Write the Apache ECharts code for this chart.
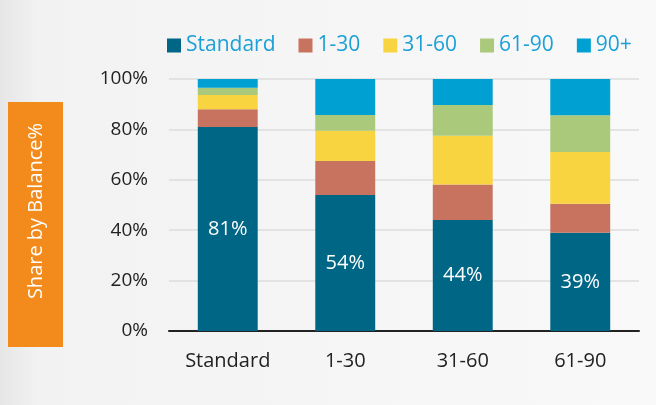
<!DOCTYPE html>
<html>
<head>
<meta charset="utf-8">
<script src="https://cdn.jsdelivr.net/npm/echarts@6/dist/echarts.min.js"></script>
<style>
html,body{margin:0;padding:0;}
#chart{width:656px;height:405px;}
</style>
</head>
<body>
<div id="chart"></div>
<script>
const categories = ['Standard', '1-30', '31-60', '61-90'];
const seriesNames = ['Standard', '1-30', '31-60', '61-90', '90+'];
const standardVals = [81, 54, 44, 39];
const d1to30Vals = [7, 13.5, 14.1, 11.5];
const d31to60Vals = [5.7, 12, 19.4, 20.5];
const d61to90Vals = [2.8, 6.2, 12.2, 14.6];
const d90plusVals = [3.5, 14.3, 10.3, 14.4];
const yTicks = [0, 20, 40, 60, 80, 100];
const colors = ['#006685', '#C87360', '#F8D540', '#AAC97A', '#00A0D2'];

const dataSets = [standardVals, d1to30Vals, d31to60Vals, d61to90Vals, d90plusVals];
const FONT = 'Open Sans';

const chart = echarts.init(document.getElementById('chart'));
const series = seriesNames.map((name, i) => ({
  name: name,
  type: 'bar',
  stack: 'total',
  barWidth: '51%',
  data: dataSets[i],
  itemStyle: { color: colors[i] },
  label: i === 0 ? {
    show: true,
    position: 'inside',
    color: '#ffffff',
    fontFamily: FONT,
    fontSize: 20,
    formatter: p => Math.round(p.value) + '%'
  } : { show: false },
  emphasis: { disabled: true }
}));

chart.setOption({
  animation: false,
  backgroundColor: {
    type: 'linear', x: 0, y: 0, x2: 1, y2: 0,
    colorStops: [
      { offset: 0, color: '#E6E6E6' },
      { offset: 0.06, color: '#F2F2F2' },
      { offset: 1, color: '#F9F9F9' }
    ]
  },
  color: colors,
  legend: {
    data: seriesNames,
    top: 30,
    left: 162,
    itemWidth: 14,
    itemHeight: 14,
    itemGap: 23,
    icon: 'rect',
    textStyle: { color: '#1BA0D7', fontFamily: FONT, fontSize: 21 }
  },
  grid: { left: 169, right: 17, top: 79, bottom: 74, containLabel: false },
  xAxis: {
    type: 'category',
    data: categories,
    axisLine: { lineStyle: { color: '#222', width: 2 } },
    axisTick: { show: false },
    axisLabel: { color: '#222', fontFamily: FONT, fontSize: 20, margin: 20 }
  },
  yAxis: {
    type: 'value',
    min: yTicks[0],
    max: yTicks[yTicks.length - 1],
    interval: 20,
    axisLine: { show: false },
    axisTick: { show: false },
    splitLine: { lineStyle: { color: '#DCDCDC', width: 1.5 } },
    axisLabel: { color: '#222', fontFamily: FONT, fontSize: 19, margin: 21, formatter: '{value}%' }
  },
  graphic: [
    {
      type: 'rect',
      shape: { x: 8, y: 102, width: 55, height: 245 },
      style: { fill: '#F28B1C' }
    },
    {
      type: 'text',
      x: 36, y: 211,
      rotation: Math.PI / 2,
      style: {
        text: 'Share by Balance%',
        fill: '#ffffff',
        font: '20px "Open Sans"',
        align: 'center',
        verticalAlign: 'middle'
      }
    }
  ],
  series: series
});
</script>
</body>
</html>
